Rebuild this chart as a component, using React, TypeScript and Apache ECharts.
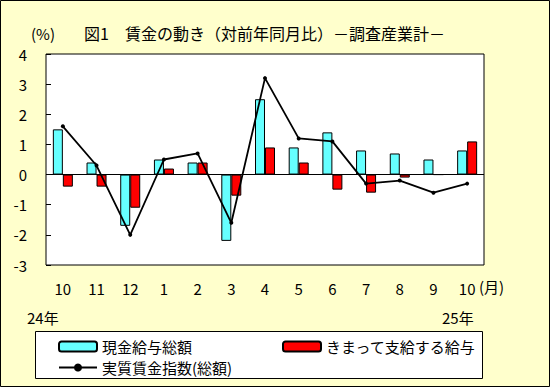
import React, { useEffect, useRef } from "react";
import * as echarts from "echarts";

const categories = ["10", "11", "12", "1", "2", "3", "4", "5", "6", "7", "8", "9", "10"];
const totalCash = [1.5, 0.4, -1.7, 0.5, 0.4, -2.2, 2.5, 0.9, 1.4, 0.8, 0.7, 0.5, 0.8];
const regularPay = [-0.4, -0.4, -1.1, 0.2, 0.4, -0.7, 0.9, 0.4, -0.5, -0.6, -0.1, 0, 1.1];
const realWage = [1.6, 0.3, -2.0, 0.5, 0.7, -1.6, 3.2, 1.2, 1.1, -0.3, -0.2, -0.6, -0.3];

const FONT = "'Noto Sans CJK JP', sans-serif";

export default function App() {
  const ref = useRef<HTMLDivElement>(null);
  useEffect(() => {
    document.body.style.margin = "0";
    const chart = echarts.init(ref.current!, null, { renderer: "svg" });
    const legendText = { fontFamily: FONT, fontSize: 15, color: "#000" };
    chart.setOption({
      animation: false,
      backgroundColor: "#FFFFCC",
      grid: {
        left: 46,
        right: 66,
        top: 54,
        bottom: 122,
        show: true,
        backgroundColor: "#fff",
        borderColor: "#000",
        borderWidth: 1,
      },
      xAxis: {
        type: "category",
        data: categories,
        axisLine: { show: false },
        axisTick: { show: false },
        axisLabel: { margin: 16, fontFamily: FONT, fontSize: 15, color: "#000" },
      },
      yAxis: {
        type: "value",
        min: -3,
        max: 4,
        interval: 1,
        axisLine: { show: false },
        splitLine: { show: false },
        axisTick: { show: true, inside: true, length: 5, lineStyle: { color: "#000" } },
        axisLabel: { margin: 19, fontFamily: FONT, fontSize: 15, color: "#000" },
      },
      legend: [
        {
          data: ["現金給与総額"],
          left: 53,
          top: 334,
          itemWidth: 38,
          itemHeight: 10,
          itemGap: 5,
          textStyle: legendText,
          z: 5,
        },
        {
          data: ["きまって支給する給与"],
          left: 277,
          top: 334,
          itemWidth: 38,
          itemHeight: 10,
          textStyle: legendText,
          z: 5,
        },
        {
          data: ["実質賃金指数(総額)"],
          left: 53,
          top: 355,
          itemWidth: 38,
          itemHeight: 10,
          textStyle: legendText,
          z: 5,
        },
      ],
      graphic: [
        {
          type: "rect",
          shape: { x: 0.5, y: 0.5, width: 549, height: 386 },
          style: { fill: "none", stroke: "#000", lineWidth: 1 },
          z: 10,
        },
        {
          type: "rect",
          shape: { x: 35.5, y: 331.5, width: 447, height: 47 },
          style: { fill: "#fff", stroke: "#000", lineWidth: 1 },
          z: 1,
        },
        {
          type: "text",
          x: 31,
          y: 33,
          style: { text: "(%)", fontFamily: FONT, fontSize: 15, fill: "#000", verticalAlign: "middle" },
        },
        {
          type: "text",
          x: 84,
          y: 33,
          style: {
            text: "図1　賃金の動き（対前年同月比）－調査産業計－",
            fontFamily: FONT,
            fontSize: 16,
            fill: "#000",
            verticalAlign: "middle",
          },
        },
        {
          type: "text",
          x: 479,
          y: 286,
          style: { text: "(月)", fontFamily: FONT, fontSize: 15, fill: "#000", verticalAlign: "middle" },
        },
        {
          type: "text",
          x: 27,
          y: 317,
          style: { text: "24年", fontFamily: FONT, fontSize: 15, fill: "#000", verticalAlign: "middle" },
        },
        {
          type: "text",
          x: 442,
          y: 317,
          style: { text: "25年", fontFamily: FONT, fontSize: 15, fill: "#000", verticalAlign: "middle" },
        },
      ],
      series: [
        {
          name: "現金給与総額",
          type: "bar",
          data: totalCash,
          barWidth: 10,
          barGap: "0%",
          itemStyle: { color: "#66FFFF", borderColor: "#000", borderWidth: 1 },
        },
        {
          name: "きまって支給する給与",
          type: "bar",
          data: regularPay,
          barWidth: 10,
          barGap: "0%",
          itemStyle: { color: "#FF0000", borderColor: "#000", borderWidth: 1 },
        },
        {
          name: "実質賃金指数(総額)",
          type: "line",
          data: realWage,
          symbol: "circle",
          symbolSize: 4,
          itemStyle: { color: "#000" },
          lineStyle: { color: "#000", width: 1.8 },
          markLine: {
            silent: true,
            symbol: "none",
            label: { show: false },
            lineStyle: { color: "#000", width: 1, type: "solid" },
            data: [{ yAxis: 0 }],
            z: 1,
          },
        },
      ],
    });
    return () => chart.dispose();
  }, []);
  return <div ref={ref} style={{ width: 550, height: 387 }} />;
}
